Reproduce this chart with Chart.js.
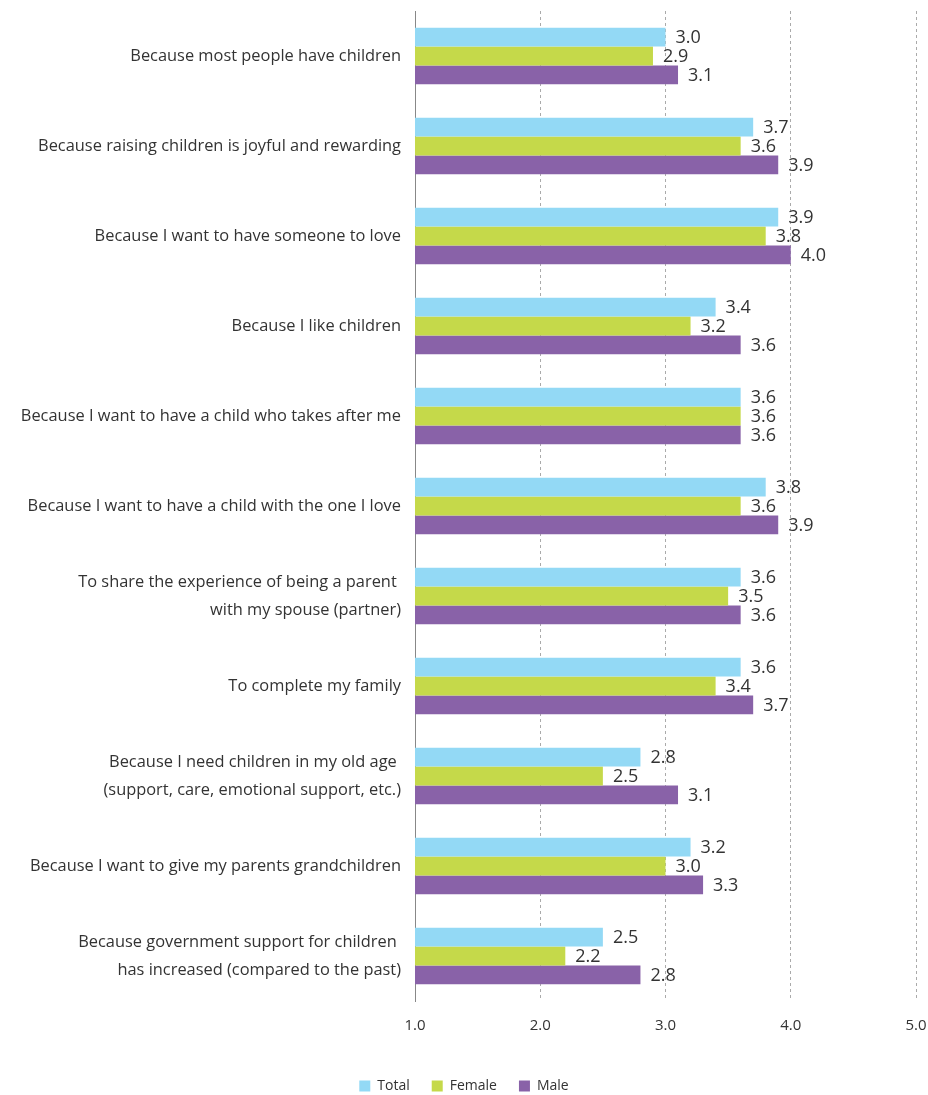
<!DOCTYPE html>
<html>
<head>
<meta charset="utf-8">
<script src="https://cdn.jsdelivr.net/npm/chart.js@4/dist/chart.umd.min.js"></script>
<style>
  html, body { margin: 0; padding: 0; background: #fff; }
  #wrap { width: 928px; height: 1095px; }
</style>
</head>
<body>
<div id="wrap"><canvas id="c" width="928" height="1095"></canvas></div>
<script>
const categories = [
  "Because most people have children",
  "Because raising children is joyful and rewarding",
  "Because I want to have someone to love",
  "Because I like children",
  "Because I want to have a child who takes after me",
  "Because I want to have a child with the one I love",
  ["To share the experience of being a parent ", "with my spouse (partner)"],
  "To complete my family",
  ["Because I need children in my old age ", "(support, care, emotional support, etc.)"],
  "Because I want to give my parents grandchildren",
  ["Because government support for children ", "has increased (compared to the past)"]
];
const totalValues  = [3.0, 3.7, 3.9, 3.4, 3.6, 3.8, 3.6, 3.6, 2.8, 3.2, 2.5];
const femaleValues = [2.9, 3.6, 3.8, 3.2, 3.6, 3.6, 3.5, 3.4, 2.5, 3.0, 2.2];
const maleValues   = [3.1, 3.9, 4.0, 3.6, 3.6, 3.9, 3.6, 3.7, 3.1, 3.3, 2.8];
const xTicks = [1, 2, 3, 4, 5];
const seriesNames = ["Total", "Female", "Male"];
const seriesColors = ["#93D9F5", "#C5D94A", "#8962A8"];

const FONT = "'Open Sans', 'Noto Sans', sans-serif";
const TEXT = "#333333";

const valueLabels = {
  id: 'valueLabels',
  afterDatasetsDraw(chart) {
    const ctx = chart.ctx;
    ctx.save();
    ctx.font = "18px " + FONT;
    ctx.fillStyle = TEXT;
    ctx.textAlign = 'left';
    ctx.textBaseline = 'middle';
    chart.data.datasets.forEach((ds, i) => {
      const meta = chart.getDatasetMeta(i);
      meta.data.forEach((el, j) => {
        ctx.fillText(ds.data[j].toFixed(1), el.x + 10, el.y + 1);
      });
    });
    ctx.restore();
  }
};

new Chart(document.getElementById('c'), {
  type: 'bar',
  data: {
    labels: categories,
    datasets: [
      { label: seriesNames[0], data: totalValues,  backgroundColor: seriesColors[0] },
      { label: seriesNames[1], data: femaleValues, backgroundColor: seriesColors[1] },
      { label: seriesNames[2], data: maleValues,   backgroundColor: seriesColors[2] }
    ]
  },
  options: {
    indexAxis: 'y',
    responsive: false,
    animation: false,
    devicePixelRatio: 1,
    categoryPercentage: 0.63,
    barPercentage: 1.0,
    layout: { padding: { top: 11, right: 0, left: 0, bottom: -8 } },
    scales: {
      x: {
        min: 1, max: 5,
        afterBuildTicks(scale) { scale.ticks = xTicks.map(v => ({ value: v })); },
        afterFit(scale) {
          scale.height = 56;
          scale.paddingRight = 12;
          scale.paddingLeft = 0;
        },
        ticks: {
          color: TEXT,
          font: { family: FONT, size: 15 },
          padding: 16,
          maxRotation: 0,
          callback: v => Number(v).toFixed(1)
        },
        grid: {
          drawTicks: false,
          color: ctx => (ctx.tick && ctx.tick.value === 1) ? 'rgba(0,0,0,0)' : '#aaaaaa',
          lineWidth: 1
        },
        border: { display: false, dash: [3, 3] }
      },
      y: {
        afterFit(scale) {
          scale.width = 415;
          scale.paddingTop = 0;
          scale.paddingBottom = 0;
        },
        ticks: {
          color: TEXT,
          font: { family: FONT, size: 16.4, lineHeight: 1.7 },
          padding: 14
        },
        grid: { display: false, drawTicks: false },
        border: { display: true, color: '#888888', width: 1 }
      }
    },
    plugins: {
      legend: {
        position: 'bottom',
        labels: {
          color: TEXT,
          font: { family: FONT, size: 14 },
          boxWidth: 11,
          boxHeight: 11,
          padding: 22
        }
      },
      tooltip: { enabled: false }
    }
  },
  plugins: [valueLabels]
});
</script>
</body>
</html>
